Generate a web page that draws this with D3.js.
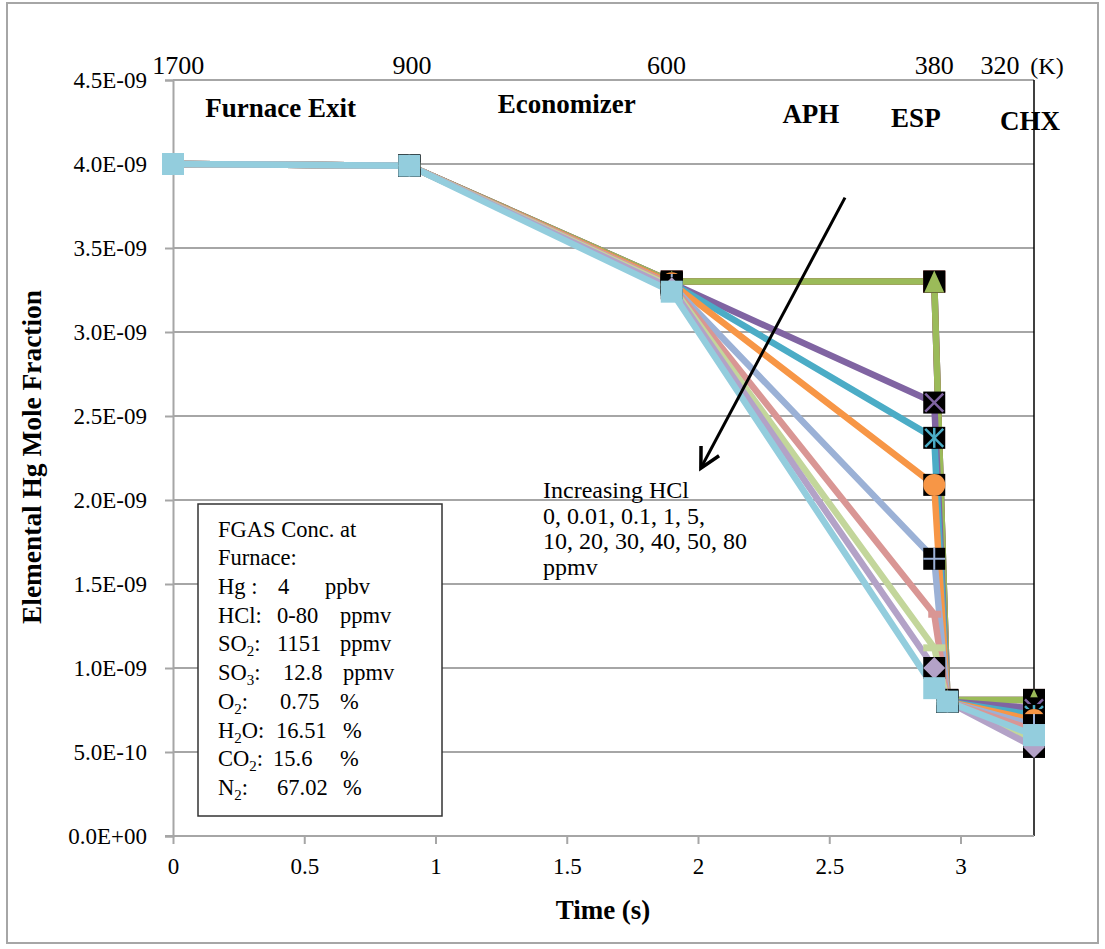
<!DOCTYPE html>
<html>
<head>
<meta charset="utf-8">
<script src="https://cdn.jsdelivr.net/npm/d3@7"></script>
<style>
  body { margin: 0; background: #fff; }
  svg text { font-family: "Liberation Serif", "Times New Roman", serif; fill: #000; }
</style>
</head>
<body>
<svg id="chart" width="1105" height="949"></svg>
<script>
// Time of each station (s)
const times = [0, 0.9, 1.9, 2.9, 2.95, 3.28];

// HCl levels (ppmv), one series each
const hclLevels = ["0", "0.01", "0.1", "1", "5", "10", "20", "30", "40", "50", "80"];

// Elemental Hg mole fraction
const hcl0   = [4.00e-9, 3.99e-9, 3.30e-9, 3.30e-9, 8.1e-10, 8.1e-10];
const hcl001 = [4.00e-9, 3.99e-9, 3.30e-9, 3.30e-9, 8.1e-10, 8.1e-10];
const hcl01  = [4.00e-9, 3.99e-9, 3.30e-9, 3.30e-9, 8.1e-10, 8.1e-10];
const hcl1   = [4.00e-9, 3.99e-9, 3.29e-9, 2.58e-9, 8.0e-10, 7.6e-10];
const hcl5   = [4.00e-9, 3.99e-9, 3.29e-9, 2.37e-9, 8.0e-10, 7.2e-10];
const hcl10  = [4.00e-9, 3.99e-9, 3.29e-9, 2.09e-9, 8.0e-10, 6.9e-10];
const hcl20  = [4.00e-9, 3.99e-9, 3.28e-9, 1.65e-9, 8.0e-10, 6.6e-10];
const hcl30  = [4.00e-9, 3.99e-9, 3.28e-9, 1.32e-9, 8.0e-10, 6.3e-10];
const hcl40  = [4.00e-9, 3.99e-9, 3.27e-9, 1.12e-9, 8.0e-10, 5.6e-10];
const hcl50  = [4.00e-9, 3.99e-9, 3.26e-9, 1.00e-9, 8.0e-10, 5.3e-10];
const hcl80  = [4.00e-9, 3.99e-9, 3.24e-9, 8.8e-10, 8.0e-10, 6.0e-10];
const seriesValues = [hcl0, hcl001, hcl01, hcl1, hcl5, hcl10, hcl20, hcl30, hcl40, hcl50, hcl80];

// ticks and labels
const xTicks = [0, 0.5, 1, 1.5, 2, 2.5, 3];
const yTicks = [0, 5e-10, 1e-9, 1.5e-9, 2e-9, 2.5e-9, 3e-9, 3.5e-9, 4e-9, 4.5e-9];
const tempTimes = [0.02, 0.91, 1.88, 2.9, 3.15];
const tempLabels = ["1700", "900", "600", "380", "320"];
const stageNames = ["Furnace Exit", "Economizer", "APH", "ESP", "CHX"];
const stageTimes = [0.41, 1.5, 2.43, 2.83, 3.265];
const stageBase = [117, 113, 123, 127, 130];

// styles (Excel default palette + markers)
const colors = ["#4F81BD", "#C0504D", "#9BBB59", "#8064A2", "#4BACC6", "#F79646",
                "#9BB1D6", "#D99694", "#C3D69B", "#B3A2C7", "#93CDDD"];
const markers = ["diamond", "square", "triangle", "x", "star", "circle",
                 "plus", "dash", "longdash", "diamond", "square"];

const svg = d3.select("#chart");

// outer border
svg.append("rect").attr("x", 7).attr("y", 3).attr("width", 1091).attr("height", 940)
  .attr("fill", "none").attr("stroke", "#a6a6a6").attr("stroke-width", 2);

const x = d3.scaleLinear().domain([0, 3.28]).range([173, 1034]);
const y = d3.scaleLinear().domain([0, 4.5e-9]).range([836, 80]);

// grid lines
svg.append("g").selectAll("line").data(yTicks.slice(1)).enter().append("line")
  .attr("x1", x(0)).attr("x2", x(3.28))
  .attr("y1", d => y(d)).attr("y2", d => y(d))
  .attr("stroke", "#a6a6a6").attr("stroke-width", 2);

// right border
svg.append("line").attr("x1", x(3.28)).attr("x2", x(3.28))
  .attr("y1", y(4.5e-9)).attr("y2", y(0))
  .attr("stroke", "#000").attr("stroke-width", 1.5);

// axes
const fmtY = d => d === 0 ? "0.0E+00" : d3.format(".1e")(d).replace(/e-(\d)$/, "E-0$1").replace("e-", "E-");
const yAxis = svg.append("g").attr("transform", `translate(${x(0)},0)`)
  .call(d3.axisLeft(y).tickValues(yTicks).tickSize(8).tickPadding(18).tickFormat(fmtY));
const xAxis = svg.append("g").attr("transform", `translate(0,${y(0)})`)
  .call(d3.axisBottom(x).tickValues(xTicks).tickSize(8).tickPadding(14).tickFormat(d3.format("")));
[xAxis, yAxis].forEach(g => {
  g.select(".domain").attr("stroke", "#a6a6a6").attr("stroke-width", 2);
  g.selectAll(".tick line").attr("stroke", "#a6a6a6").attr("stroke-width", 2);
  g.selectAll("text").attr("font-family", "Liberation Serif").attr("font-size", 23).attr("fill", "#000");
});
xAxis.select(".domain").attr("d", `M${x(0) - 8},0H${x(3.28)}`);

// axis titles
svg.append("text").attr("x", 603).attr("y", 919).attr("text-anchor", "middle")
  .attr("font-weight", "bold").attr("font-size", 27).text("Time (s)");
svg.append("text").attr("transform", "translate(41,457) rotate(-90)").attr("text-anchor", "middle")
  .attr("font-weight", "bold").attr("font-size", 27)
  .attr("textLength", 334).attr("lengthAdjust", "spacingAndGlyphs")
  .text("Elemental Hg Mole Fraction");

// temperature labels along the top
svg.append("g").selectAll("text").data(tempLabels).enter().append("text")
  .attr("x", (d, i) => x(tempTimes[i])).attr("y", 74).attr("text-anchor", "middle")
  .attr("font-size", 26).text(d => d);
svg.append("text").attr("x", 1047).attr("y", 74).attr("text-anchor", "middle")
  .attr("font-size", 24).text("(K)");

// station names
svg.append("g").selectAll("text").data(stageNames).enter().append("text")
  .attr("x", (d, i) => x(stageTimes[i])).attr("y", (d, i) => stageBase[i])
  .attr("text-anchor", "middle").attr("font-weight", "bold").attr("font-size", 27)
  .text(d => d);

// series lines
const line = d3.line().x((d, i) => x(times[i])).y(d => y(d));
svg.append("g").selectAll("path").data(seriesValues).enter().append("path")
  .attr("d", line).attr("fill", "none")
  .attr("stroke", (d, i) => colors[i]).attr("stroke-width", 6.5)
  .attr("stroke-linejoin", "round");

// markers
function drawMarker(g, type, color) {
  const s = 11;
  const bg = ["diamond", "triangle", "x", "star", "circle", "plus"];
  if (bg.includes(type)) g.append("rect").attr("x", -s).attr("y", -s).attr("width", 2 * s).attr("height", 2 * s).attr("fill", "#000");
  if (type === "square") g.append("rect").attr("x", -s).attr("y", -s).attr("width", 2 * s).attr("height", 2 * s).attr("fill", color);
  if (type === "diamond") g.append("path").attr("d", `M0,${-s}L${s},0L0,${s}L${-s},0Z`).attr("fill", color);
  if (type === "triangle") g.append("path").attr("d", `M0,${-s}L${s - 1},${s}L${-s + 1},${s}Z`).attr("fill", color);
  if (type === "circle") g.append("circle").attr("r", s).attr("fill", color);
  if (type === "x" || type === "star")
    g.append("path").attr("d", `M${-s + 2},${-s + 2}L${s - 2},${s - 2}M${s - 2},${-s + 2}L${-s + 2},${s - 2}`)
      .attr("stroke", color).attr("stroke-width", 2.5);
  if (type === "star") g.append("path").attr("d", `M0,${-s + 1}V${s - 1}`).attr("stroke", color).attr("stroke-width", 2.5);
  if (type === "plus") g.append("path").attr("d", `M${-s},0H${s}M0,${-s}V${s}`).attr("stroke", color).attr("stroke-width", 2);
  if (type === "dash") g.append("rect").attr("x", -6).attr("y", -3.5).attr("width", 13).attr("height", 7).attr("fill", color);
  if (type === "longdash") g.append("rect").attr("x", -s).attr("y", -3.5).attr("width", 2 * s).attr("height", 7).attr("fill", color);
}
seriesValues.forEach((vals, si) => {
  const g = svg.append("g");
  vals.forEach((v, i) => {
    const m = g.append("g").attr("transform", `translate(${x(times[i])},${y(v)})`);
    drawMarker(m, markers[si], colors[si]);
  });
});

// arrow for increasing HCl
const arrowFrom = [2.56, 3.80e-9], arrowTo = [2.011, 2.19e-9];
const x1 = x(arrowFrom[0]), y1 = y(arrowFrom[1]), x2 = x(arrowTo[0]), y2 = y(arrowTo[1]);
const ang = Math.atan2(y2 - y1, x2 - x1);
const head = 22, spread = Math.PI / 6.5;
svg.append("line").attr("x1", x1).attr("y1", y1).attr("x2", x2).attr("y2", y2)
  .attr("stroke", "#000").attr("stroke-width", 3);
svg.append("path")
  .attr("d", `M${x2 - head * Math.cos(ang - spread)},${y2 - head * Math.sin(ang - spread)}L${x2},${y2}L${x2 - head * Math.cos(ang + spread)},${y2 - head * Math.sin(ang + spread)}`)
  .attr("fill", "none").attr("stroke", "#000").attr("stroke-width", 3.5).attr("stroke-linejoin", "miter");

// annotation text
const noteLines = ["Increasing HCl", hclLevels.slice(0, 5).join(", ") + ",", hclLevels.slice(5).join(", "), "ppmv"];
svg.append("g").selectAll("text").data(noteLines).enter().append("text")
  .attr("x", 543).attr("y", (d, i) => 498 + i * 25.7).attr("font-size", 24).text(d => d);

// feed gas box
svg.append("rect").attr("x", 198).attr("y", 504).attr("width", 244).attr("height", 312)
  .attr("fill", "#fff").attr("stroke", "#333").attr("stroke-width", 1.5);
const gasNames = [["Hg", ""], ["HCl", ""], ["SO", "2"], ["SO", "3"], ["O", "2"], ["H", "2", "O"], ["CO", "2"], ["N", "2"]];
const gasValues = ["4", "0-80", "1151", "12.8", "0.75", "16.51", "15.6", "67.02"];
const gasUnits = ["ppbv", "ppmv", "ppmv", "ppmv", "%", "%", "%", "%"];
const valueX = [278, 277, 277, 283, 280, 276, 273, 277];
const unitX = [325, 340, 340, 343, 340, 343, 340, 343];
const box = svg.append("g").attr("font-size", 22.5);
box.append("text").attr("x", 218).attr("y", 537).text("FGAS Conc. at");
box.append("text").attr("x", 218).attr("y", 565).text("Furnace:");
gasNames.forEach((n, i) => {
  const yy = 594 + i * 28.7;
  const t = box.append("text").attr("x", 218).attr("y", yy);
  t.append("tspan").text(n[0]);
  if (n[1]) t.append("tspan").attr("font-size", 15).attr("dy", 5).text(n[1]);
  if (n[2]) t.append("tspan").attr("dy", -5).text(n[2]);
  t.append("tspan").attr("dy", n[1] && !n[2] ? -5 : 0).text(i === 0 ? " :" : ":");
  box.append("text").attr("x", valueX[i]).attr("y", yy).text(gasValues[i]);
  box.append("text").attr("x", unitX[i]).attr("y", yy).text(gasUnits[i]);
});
</script>
</body>
</html>
